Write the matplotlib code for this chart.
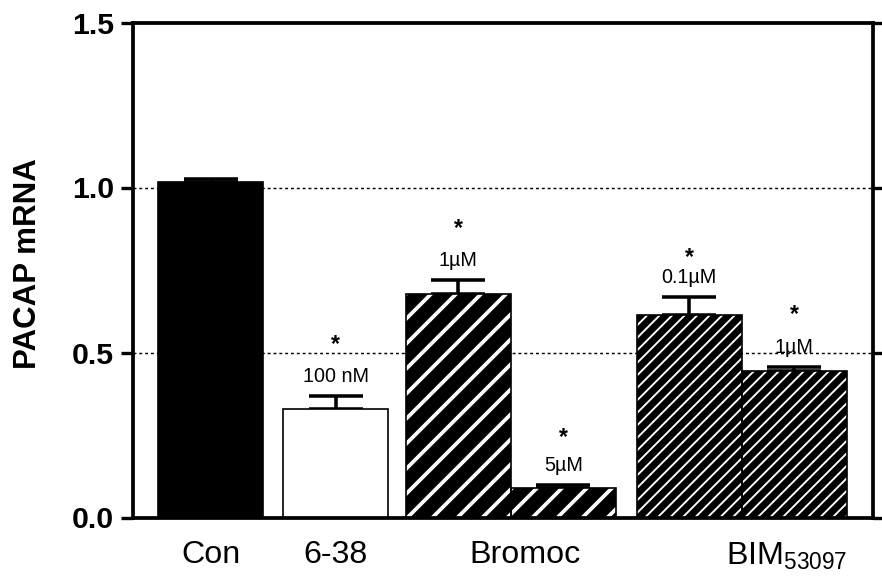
import matplotlib
matplotlib.use("Agg")
import matplotlib.pyplot as plt
import numpy as np

plt.rcParams['font.family'] = ['Liberation Sans', 'DejaVu Sans']

# data
bar_names = ["Con", "6-38 100 nM", "Bromoc 1uM", "Bromoc 5uM", "BIM 0.1uM", "BIM 1uM"]
means = [1.017, 0.329, 0.676, 0.088, 0.614, 0.445]
sems = [0.010, 0.039, 0.044, 0.010, 0.053, 0.010]
dose_labels = ["", "100 nM", "1\u00b5M", "5\u00b5M", "0.1\u00b5M", "1\u00b5M"]
significant = [False, True, True, True, True, True]
group_labels = ["Con", "6-38", "Bromoc", r"BIM$_\mathregular{53097}$"]

# layout / style
positions = [0, 1.19, 2.36, 3.36, 4.56, 5.56]
group_pos = [0, 1.19, 2.99, 5.49]
bar_width = 1.0
faces = ["black", "white", "black", "black", "black", "black"]
hatches = [None, None, "//", "//", "////", "////"]
hatch_lw = [0, 0, 1.8, 1.8, 0.9, 0.9]
star_gap = [0.155, 0.155, 0.155, 0.145, 0.12, 0.16]

fig = plt.figure(figsize=(5.88, 578 / 150), dpi=150)
ax = fig.add_axes([133 / 882, 1 - 517.5 / 578, 740 / 882, 495 / 578])

# reference lines
for yref in [0.5, 1.0]:
    ax.axhline(yref, color="black", lw=0.7, linestyle=(0, (2.0, 2.0)), zorder=0)

# error bars (upper only), drawn under the bars
ax.errorbar(positions, means, yerr=[np.zeros(len(means)), sems], fmt="none",
            ecolor="black", elinewidth=1.7, capsize=13, capthick=1.7, zorder=1)

for i, (x, m) in enumerate(zip(positions, means)):
    if hatches[i] is None:
        ax.bar(x, m, width=bar_width, color=faces[i], edgecolor="black",
               linewidth=0.8, zorder=2)
    else:
        with plt.rc_context({"hatch.linewidth": hatch_lw[i]}):
            b = ax.bar(x, m, width=bar_width, color=faces[i], edgecolor="white",
                       hatch=hatches[i], linewidth=0, zorder=2)
            for p in b:
                if hasattr(p, "set_hatch_linewidth"):
                    p.set_hatch_linewidth(hatch_lw[i])
        ax.bar(x, m, width=bar_width, fill=False, edgecolor="black",
               linewidth=0.8, zorder=3)

# dose labels and significance stars
for x, m, s, lab, sig, g in zip(positions, means, sems, dose_labels, significant, star_gap):
    if lab:
        ax.text(x, m + s + 0.06, lab, ha="center", va="center", fontsize=9.5)
    if sig:
        ax.text(x, m + s + g, "*", ha="center", va="center", fontsize=11,
                fontweight="bold")

ax.set_xlim(-0.74, 6.31)
ax.set_ylim(0, 1.5)
ax.set_yticks([0.0, 0.5, 1.0, 1.5])
ax.set_yticklabels(["0.0", "0.5", "1.0", "1.5"], fontsize=14.5, fontweight="bold")
ax.set_xticks(group_pos)
ax.set_xticklabels(group_labels, fontsize=15.5)
ax.tick_params(axis="x", length=0, pad=11)
ax.tick_params(axis="y", length=6, width=1.6, pad=3, right=True, labelright=False)

for sp in ax.spines.values():
    sp.set_linewidth(1.8)

fig.text(28 / 882, 1 - 264 / 578, "PACAP mRNA", rotation=90, ha="center",
         va="center", fontsize=15, fontweight="bold")

fig.savefig("out.png", dpi=150)
